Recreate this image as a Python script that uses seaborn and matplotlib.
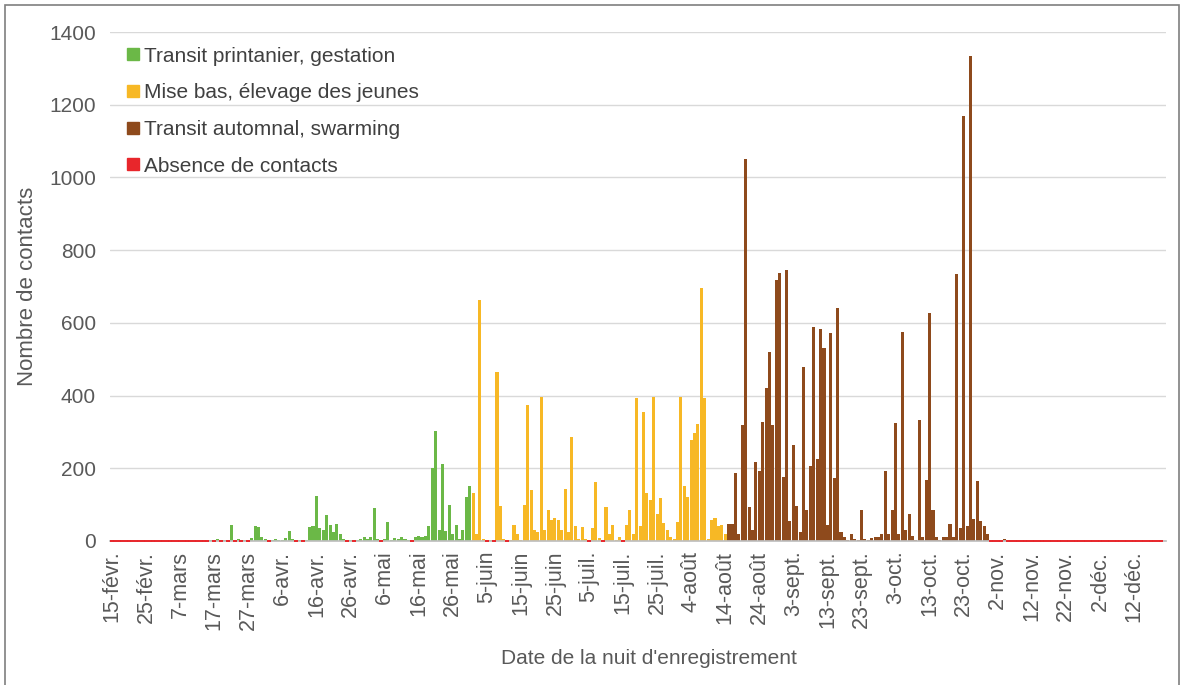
"""
Contacts nocturnes par nuit d'enregistrement, colorés par phase du cycle biologique.
"""

import numpy as np
import pandas as pd
import matplotlib
matplotlib.use('Agg')
import matplotlib.pyplot as plt
import seaborn as sns
from matplotlib.lines import Line2D
from matplotlib.patches import Rectangle

# ─────────────────────────────────────────────
# Données : une valeur par nuit, du 15-févr. au 20-déc.
# ─────────────────────────────────────────────
# 15-févr. -> 14-mars
avant = [0, 0, 0, 0, 0, 0, 0, 0, 0, 0,
         0, 0, 0, 0, 0, 0, 0, 0, 0, 0,
         0, 0, 0, 0, 0, 0, 0, 0]

# 15-mars -> 31-mai : transit printanier
printemps = [0, 3, 0, 5, 0, 4, 0, 45, 0, 5,
             0, 3, 0, 8, 42, 38, 12, 5, 0, 3,
             6, 4, 2, 8, 27, 5, 0, 2, 0, 3,
             38, 40, 124, 35, 30, 72, 45, 25, 48, 18,
             5, 0, 3, 0, 4, 6, 10, 5, 12, 90,
             5, 0, 6, 53, 3, 8, 5, 12, 6, 4,
             0, 12, 14, 12, 15, 40, 200, 303, 30, 211,
             28, 99, 20, 44, 5, 30, 122, 150]

# 1-juin -> 14-août : mise bas
ete = [132, 20, 663, 5, 0, 3, 0, 466, 96, 5,
       0, 4, 44, 20, 3, 99, 374, 140, 30, 25,
       397, 30, 85, 57, 62, 57, 30, 143, 25, 287,
       40, 5, 38, 5, 0, 35, 163, 8, 0, 94,
       20, 44, 3, 10, 0, 44, 85, 20, 393, 40,
       356, 132, 112, 397, 75, 118, 50, 30, 10, 5,
       53, 397, 150, 122, 278, 297, 321, 695, 393, 5,
       57, 62, 40, 44, 20]

# 15-août -> 30-oct. : transit automnal
automne = [48, 48, 186, 20, 319, 1050, 94, 30, 218, 193,
           328, 420, 521, 319, 718, 736, 177, 745, 55, 264,
           96, 25, 479, 85, 207, 589, 226, 584, 530, 44,
           571, 173, 640, 25, 10, 3, 20, 5, 3, 85,
           5, 3, 8, 10, 12, 20, 193, 20, 85, 324,
           20, 575, 30, 74, 15, 3, 333, 10, 168, 627,
           85, 10, 3, 10, 10, 47, 10, 734, 35, 1168,
           40, 1334, 60, 165, 55, 40, 20]

# 31-oct. -> 20-déc.
apres = [0, 0, 0, 0, 6, 0, 0, 0, 0, 0,
         0, 0, 0, 0, 0, 0, 0, 0, 0, 0,
         0, 0, 0, 0, 0, 0, 0, 0, 0, 0,
         0, 0, 0, 0, 0, 0, 0, 0, 0, 0,
         0, 0, 0, 0, 0, 0, 0, 0, 0, 0,
         0]

phases = ['Transit printanier, gestation', 'Mise bas, élevage des jeunes',
          'Transit automnal, swarming', 'Absence de contacts']
couleurs = ['#6BB847', '#F7B825', '#8E4A1C', '#E8262B']

etiquettes = ['15-févr.', '25-févr.', '7-mars', '17-mars', '27-mars', '6-avr.',
              '16-avr.', '26-avr.', '6-mai', '16-mai', '26-mai', '5-juin',
              '15-juin', '25-juin', '5-juil.', '15-juil.', '25-juil.', '4-août',
              '14-août', '24-août', '3-sept.', '13-sept.', '23-sept.', '3-oct.',
              '13-oct.', '23-oct.', '2-nov.', '12-nov.', '22-nov.', '2-déc.', '12-déc.']

contacts = avant + printemps + ete + automne + apres
phase = ([phases[3]] * len(avant) + [phases[0]] * len(printemps) +
         [phases[1]] * len(ete) + [phases[2]] * len(automne) +
         [phases[2]] * len(apres))

df = pd.DataFrame({'jour': np.arange(len(contacts)),
                   'contacts': contacts,
                   'phase': phase})
df.loc[df['contacts'] == 0, 'phase'] = phases[3]

# ─────────────────────────────────────────────
# Graphique
# ─────────────────────────────────────────────
sns.set_theme(style='white')
plt.rcParams['font.family'] = ['Liberation Sans', 'DejaVu Sans']

gris = '#595959'
W, H = 1183, 685
fig = plt.figure(figsize=(W / 100, H / 100), dpi=100)
ax = fig.add_axes([110 / W, 1 - 541 / H, (1166 - 110) / W, (541 - 32) / H])

presents = df[df['contacts'] > 0]
sns.barplot(data=presents, x='jour', y='contacts', hue='phase',
            hue_order=phases, palette=dict(zip(phases, couleurs)),
            dodge=False, native_scale=True, width=0.9, saturation=1,
            linewidth=0, legend=False, ax=ax)

absents = df[df['phase'] == phases[3]]
ax.plot(absents['jour'], absents['contacts'], ls='none', marker='_',
        ms=2.4, mew=1.4, color=couleurs[3], clip_on=False, zorder=3)

ax.set_xlim(-0.6, len(contacts) + 0.4)
ax.set_ylim(0, 1400)
ax.set_yticks(np.arange(0, 1401, 200))
ax.set_xticks(np.arange(0, 10 * len(etiquettes), 10))
ax.set_xticklabels(etiquettes, rotation=90)

ax.yaxis.grid(True, color='#D9D9D9', lw=1)
ax.set_axisbelow(True)
for cote in ['left', 'top', 'right']:
    ax.spines[cote].set_visible(False)
ax.spines['bottom'].set_color('#BFBFBF')

ax.tick_params(axis='x', labelsize=15.5, colors=gris, length=4, width=1,
               color='#BFBFBF', pad=3)
ax.tick_params(axis='y', labelsize=15, colors=gris, length=0, pad=10)

ax.set_xlabel("Date de la nuit d'enregistrement", fontsize=15, color=gris)
ax.set_ylabel('Nombre de contacts', fontsize=16, color=gris)
ax.xaxis.set_label_coords(0.51, -0.212)
ax.yaxis.set_label_coords(-0.068, 0.5)

poignees = [Line2D([], [], marker='s', ls='none', color=c, ms=9) for c in couleurs]
ax.legend(poignees, phases, loc='upper left', bbox_to_anchor=(0.0, 1.0),
          frameon=False, fontsize=15, labelspacing=0.85, handletextpad=0.15,
          handlelength=0.8, borderaxespad=0.3, labelcolor='#404040')

# cadre autour de la figure
fig.patches.append(Rectangle((5 / W, -0.01), (1179 - 5) / W, 1.01 - 5 / H,
                             transform=fig.transFigure, fill=False,
                             edgecolor='#7F7F7F', lw=1.2))

fig.savefig('out.png', dpi=100)
